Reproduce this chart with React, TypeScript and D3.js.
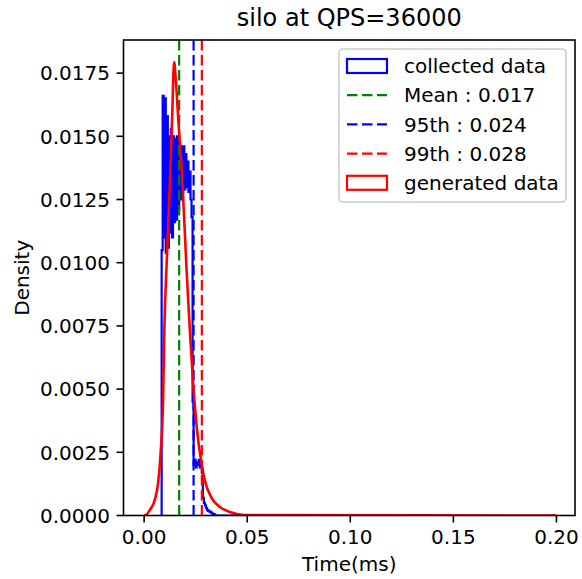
import React from "react";
import * as d3 from "d3";

// ---- data ----
const title = "silo at QPS=36000";
const xLabel = "Time(ms)";
const yLabel = "Density";
const xTicks = [0.0, 0.05, 0.1, 0.15, 0.2];
const yTicks = [0, 0.0025, 0.005, 0.0075, 0.01, 0.0125, 0.015, 0.0175];

// collected data histogram (step), bins start at blueStart with width blueWidth
const blueStart = 0.0085;
const blueWidth = 0.0005;
const blueEnd = 0.066;
const blueValues = [
  0.0105, 0.0166, 0.011, 0.0165, 0.0104, 0.0158, 0.0106, 0.015, 0.0112, 0.0153,
  0.011, 0.015, 0.0116, 0.0149, 0.0117, 0.015, 0.0121, 0.0147, 0.0125, 0.0146,
  0.0128, 0.0146, 0.0129, 0.0143, 0.013, 0.014, 0.0128, 0.0136, 0.0125, 0.0118,
  0.0045, 0.002, 0.0022, 0.0019, 0.0021, 0.002, 0.0022, 0.0019, 0.002, 0.0017,
  0.0007, 0.0005, 0.0004, 0.0003, 0.00022, 0.00018, 0.00016, 0.00014, 0.0001, 0.00008,
  0.00006, 0.00004,
];

// generated data (red) density curve
const redX = [
  0.0, 0.0003, 0.0028, 0.0052, 0.0068, 0.0081, 0.0092, 0.0098, 0.011, 0.0125,
  0.0136, 0.01455, 0.0154, 0.0165, 0.0186, 0.0206, 0.0222, 0.0238, 0.0262, 0.0278,
  0.0294, 0.0327, 0.0367, 0.0416, 0.0488, 0.2,
];
const redY = [
  0, 0, 0.00022, 0.00062, 0.00129, 0.00259, 0.00457, 0.0073, 0.0101, 0.01315,
  0.01576, 0.01794, 0.0172, 0.01576, 0.01315, 0.0097, 0.0073, 0.0052, 0.003, 0.0021,
  0.0014, 0.0007, 0.00034, 0.00014, 0.00002, 0,
];

const legendLabels = ["collected data", "Mean : 0.017", "95th : 0.024", "99th : 0.028", "generated data"];
const vlineValues = [0.017, 0.024, 0.028];
const vlineColors = ["#008000", "#0000ff", "#ff0000"];

// ---- layout ----
const W = 582;
const H = 579;
const left = 123.5;
const right = 575;
const top = 40;
const bottom = 515.5;
const font = "DejaVu Sans, sans-serif";

export default function App() {
  const x = d3.scaleLinear().domain([-0.01, 0.209]).range([left, right]);
  const y = d3.scaleLinear().domain([0, 0.01881]).range([bottom, top]);

  const bluePts: [number, number][] = [[blueStart, 0]];
  blueValues.forEach((v, i) => bluePts.push([blueStart + i * blueWidth, v]));
  const lastEdge = blueStart + blueValues.length * blueWidth;
  bluePts.push([lastEdge, 0]);
  bluePts.push([blueEnd, 0]);
  const stepLine = d3
    .line<[number, number]>()
    .x((d) => x(d[0]))
    .y((d) => y(d[1]))
    .curve(d3.curveStepAfter);
  const bluePath = stepLine(bluePts) || "";

  const redPts: [number, number][] = redX.map((v, i) => [v, redY[i]]);
  const redLine = d3
    .line<[number, number]>()
    .x((d) => x(d[0]))
    .y((d) => y(d[1]))
    .curve(d3.curveMonotoneX);
  const redPath = redLine(redPts) || "";

  const legX = 339;
  const legY = 49;
  const legW = 227;
  const legH = 153;
  const rowY = (i: number) => 66 + i * 29.2;

  return (
    <svg
      width={W}
      height={H}
      style={{ position: "absolute", left: 0, top: 0, background: "#fff" }}
      fontFamily={font}
    >
      <rect x={0} y={0} width={W} height={H} fill="#fff" />
      <defs>
        <clipPath id="plotclip">
          <rect x={left} y={top} width={right - left} height={bottom - top} />
        </clipPath>
      </defs>
      <g clipPath="url(#plotclip)">
        <path d={bluePath} fill="none" stroke="#0000ff" strokeWidth={2.2} strokeLinejoin="miter" />
        {vlineValues.map((v, i) => (
          <line
            key={i}
            x1={x(v)}
            x2={x(v)}
            y1={bottom}
            y2={top}
            stroke={vlineColors[i]}
            strokeWidth={2.2}
            strokeDasharray="10.5,4.5"
          />
        ))}
        <path d={redPath} fill="none" stroke="#ff0000" strokeWidth={2.6} />
      </g>

      {/* spines */}
      <rect x={left} y={top} width={right - left} height={bottom - top} fill="none" stroke="#000" strokeWidth={1.6} />

      {/* x ticks */}
      {xTicks.map((t, i) => (
        <g key={i}>
          <line x1={x(t)} x2={x(t)} y1={bottom} y2={bottom + 7} stroke="#000" strokeWidth={1.6} />
          <text x={x(t)} y={544} fontSize={20} textAnchor="middle" fill="#000">
            {t.toFixed(2)}
          </text>
        </g>
      ))}
      {/* y ticks */}
      {yTicks.map((t, i) => (
        <g key={i}>
          <line x1={left - 7} x2={left} y1={y(t)} y2={y(t)} stroke="#000" strokeWidth={1.6} />
          <text x={110} y={y(t)} dy="0.36em" fontSize={20} textAnchor="end" fill="#000">
            {t.toFixed(4)}
          </text>
        </g>
      ))}

      <text x={(left + right) / 2} y={26} fontSize={24} textAnchor="middle" fill="#000">
        {title}
      </text>
      <text x={(left + right) / 2} y={571} fontSize={20} textAnchor="middle" fill="#000">
        {xLabel}
      </text>
      <text
        transform={`translate(22,${(top + bottom) / 2}) rotate(-90)`}
        dy="0.36em"
        fontSize={20}
        textAnchor="middle"
        fill="#000"
      >
        {yLabel}
      </text>

      {/* legend */}
      <rect x={legX} y={legY} width={legW} height={legH} rx={4} ry={4} fill="#fff" fillOpacity={0.8} stroke="#cccccc" strokeWidth={1.6} />
      {legendLabels.map((lab, i) => {
        const cy = rowY(i);
        let handle;
        if (i === 0 || i === 4) {
          handle = (
            <rect x={347} y={cy - 7} width={40} height={14} fill="none" stroke={i === 0 ? "#0000ff" : "#ff0000"} strokeWidth={2.2} />
          );
        } else {
          handle = (
            <line x1={347} x2={387} y1={cy} y2={cy} stroke={vlineColors[i - 1]} strokeWidth={2.2} strokeDasharray="10.5,4.5" />
          );
        }
        return (
          <g key={i}>
            {handle}
            <text x={404} y={cy} dy="0.36em" fontSize={20} fill="#000">
              {lab}
            </text>
          </g>
        );
      })}
    </svg>
  );
}
